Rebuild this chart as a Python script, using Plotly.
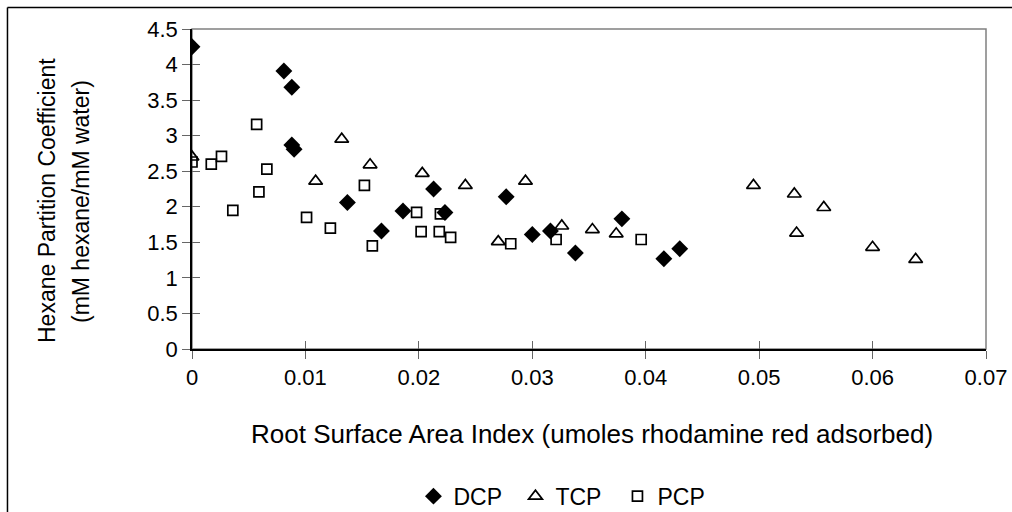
import plotly.graph_objects as go

dcp_x = [0, 0.0081, 0.0088, 0.0088, 0.0090, 0.0137, 0.0167, 0.0186, 0.0213, 0.0223, 0.0277, 0.0300, 0.0316, 0.0338, 0.0379, 0.0416, 0.0430]
dcp_y = [4.25, 3.91, 3.68, 2.87, 2.81, 2.06, 1.66, 1.94, 2.25, 1.92, 2.14, 1.61, 1.66, 1.35, 1.83, 1.27, 1.41]

tcp_x = [0, 0.0109, 0.0132, 0.0157, 0.0203, 0.0241, 0.0270, 0.0294, 0.0326, 0.0353, 0.0374, 0.0495, 0.0531, 0.0533, 0.0557, 0.0600, 0.0638]
tcp_y = [2.70, 2.36, 2.95, 2.59, 2.47, 2.30, 1.51, 2.36, 1.73, 1.68, 1.62, 2.30, 2.18, 1.63, 1.99, 1.43, 1.26]

pcp_x = [0, 0.0017, 0.0026, 0.0036, 0.0057, 0.0059, 0.0066, 0.0101, 0.0122, 0.0152, 0.0159, 0.0198, 0.0202, 0.0218, 0.0219, 0.0228, 0.0281, 0.0321, 0.0396]
pcp_y = [2.63, 2.60, 2.71, 1.95, 3.16, 2.21, 2.53, 1.85, 1.70, 2.30, 1.45, 1.92, 1.65, 1.65, 1.90, 1.57, 1.48, 1.54, 1.54]

x_ticks = [0, 0.01, 0.02, 0.03, 0.04, 0.05, 0.06, 0.07]
x_labels = ["0", "0.01", "0.02", "0.03", "0.04", "0.05", "0.06", "0.07"]
y_ticks = [0, 0.5, 1, 1.5, 2, 2.5, 3, 3.5, 4, 4.5]
y_labels = ["0", "0.5", "1", "1.5", "2", "2.5", "3", "3.5", "4", "4.5"]

x_title = "Root Surface Area Index (umoles rhodamine red adsorbed)"
y_title_1 = "Hexane Partition Coefficient"
y_title_2 = "(mM hexane/mM water)"

FONT = "Liberation Sans, Arial, sans-serif"
TICKC = "#666666"

fig = go.Figure()
fig.add_trace(go.Scatter(x=dcp_x, y=dcp_y, mode="markers", name="DCP",
                         marker=dict(symbol="diamond", size=13, color="black",
                                     line=dict(width=0))))
fig.add_trace(go.Scatter(x=tcp_x, y=tcp_y, mode="markers", name="TCP",
                         marker=dict(symbol="triangle-up-open", size=12, color="black",
                                     line=dict(width=1.7))))
fig.add_trace(go.Scatter(x=pcp_x, y=pcp_y, mode="markers", name="PCP",
                         marker=dict(symbol="square-open", size=10, color="black",
                                     line=dict(width=1.7))))
# overlay axes only carry the inner half of the crossing tick marks
fig.add_trace(go.Scatter(x=[None], y=[None], xaxis="x2", yaxis="y2",
                         showlegend=False, hoverinfo="skip"))

fig.update_layout(
    width=1012, height=512,
    margin=dict(l=192, r=26, t=29, b=163, autoexpand=False),
    paper_bgcolor="white", plot_bgcolor="white",
    font=dict(family=FONT, size=22, color="black"),
    showlegend=True,
    legend=dict(orientation="h", x=0.4716, xanchor="center", y=-0.46, yanchor="middle",
                font=dict(size=23), itemwidth=30, bgcolor="rgba(0,0,0,0)",
                entrywidth=57, entrywidthmode="pixels"),
    xaxis=dict(range=[0, 0.07], tickvals=x_ticks, ticktext=x_labels, automargin=False,
               showgrid=False, zeroline=False, showline=True, linecolor="black", linewidth=1.5,
               ticks="outside", ticklen=8, tickcolor=TICKC, tickwidth=1.2,
               tickfont=dict(size=22), ticklabelstandoff=0, ticklabeloverflow="allow"),
    yaxis=dict(range=[0, 4.5], tickvals=y_ticks, ticktext=y_labels, automargin=False,
               showgrid=False, zeroline=False, showline=True, linecolor="black", linewidth=1.5,
               ticks="outside", ticklen=8, tickcolor=TICKC, tickwidth=1.2,
               tickfont=dict(size=22), ticklabelstandoff=0, ticklabeloverflow="allow"),
    xaxis2=dict(range=[0, 0.07], tickvals=x_ticks, overlaying="x", anchor="y", automargin=False,
                showticklabels=False, ticks="inside", ticklen=8, tickcolor=TICKC, tickwidth=1.2,
                showgrid=False, zeroline=False, showline=False),
    yaxis2=dict(range=[0, 4.5], tickvals=y_ticks, overlaying="y", anchor="x", automargin=False,
                showticklabels=False, ticks="inside", ticklen=8, tickcolor=TICKC, tickwidth=1.2,
                showgrid=False, zeroline=False, showline=False),
)

# axis titles as annotations for exact placement
fig.add_annotation(text=x_title, xref="paper", yref="paper", x=0.504, y=-0.2656,
                   xanchor="center", yanchor="middle", showarrow=False,
                   font=dict(size=26, family=FONT))
fig.add_annotation(text=y_title_1, xref="paper", yref="paper", x=-0.1826, y=0.4625,
                   xanchor="center", yanchor="middle", textangle=-90, showarrow=False,
                   font=dict(size=23, family=FONT))
fig.add_annotation(text=y_title_2, xref="paper", yref="paper", x=-0.1398, y=0.4625,
                   xanchor="center", yanchor="middle", textangle=-90, showarrow=False,
                   font=dict(size=23, family=FONT))

# gray top/right plot border
fig.add_shape(type="rect", xref="paper", yref="paper", x0=0, y0=0, x1=1, y1=1,
              line=dict(color="#808080", width=1.5), layer="below")
# outer chart border: only its top and left edges fall inside the picture
fig.add_shape(type="line", xref="paper", yref="paper", x0=-0.2324, y0=1.0672, x1=1.1, y1=1.0672,
              line=dict(color="black", width=1.5), layer="below")
fig.add_shape(type="line", xref="paper", yref="paper", x0=-0.2324, y0=1.0672, x1=-0.2324, y1=-0.6,
              line=dict(color="black", width=1.5), layer="below")

# let the 1012x512 figure fill the page exactly (no default body margin)
fig.write_html("out.html", config={"displayModeBar": False},
               post_script="document.body.style.margin='0';document.body.style.overflow='hidden';")
